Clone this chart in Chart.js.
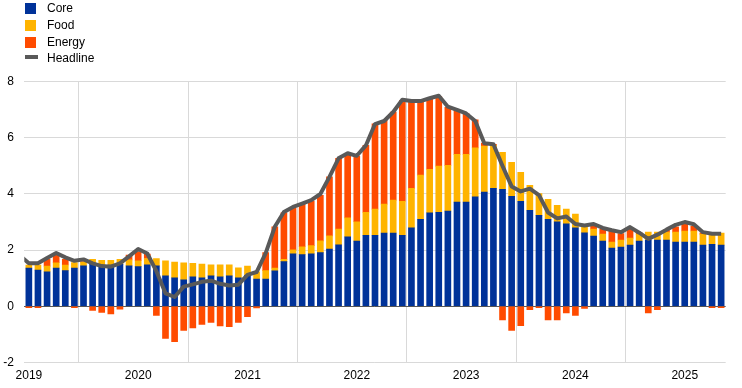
<!DOCTYPE html>
<html>
<head>
<meta charset="utf-8">
<script src="https://cdn.jsdelivr.net/npm/chart.js@4/dist/chart.umd.min.js"></script>
<style>
html,body{margin:0;padding:0;background:#fff;}
#wrap{position:relative;width:742px;height:388px;overflow:hidden;}
#c{position:absolute;left:0;top:0;}
.lg{position:absolute;left:0;top:0;font:12px "Liberation Sans",Arial,sans-serif;color:#000;}
.it{position:absolute;left:25px;height:14px;}
.bx{position:absolute;left:0;width:11px;height:11px;}
.tx{position:absolute;left:22px;line-height:14px;white-space:nowrap;}
</style>
</head>
<body>
<div id="wrap">
<canvas id="c" width="742" height="388"></canvas>
<div class="lg" id="legend"></div>
</div>
<script>
// ---- data ----
const tickYears = ['2019','2020','2021','2022','2023','2024','2025'];
// monthly, Jan 2019 .. May 2025 (percentage-point contributions)
const core = [
1.36,1.29,1.23,1.36,1.27,1.36,1.44,1.49,1.44,1.47,1.49,1.44,
1.41,1.48,1.44,1.08,1.01,0.94,1.05,1.01,1.08,1.05,1.08,1.01,
1.10,0.97,0.97,1.26,1.59,1.87,1.84,1.87,1.91,2.04,2.19,2.47,
2.32,2.53,2.53,2.61,2.61,2.53,2.79,3.10,3.33,3.35,3.39,3.71,
3.71,3.90,4.07,4.20,4.17,3.92,3.74,3.42,3.24,3.10,3.01,2.94,
2.79,2.62,2.50,2.32,2.07,2.11,2.18,2.32,2.36,2.36,2.36,2.29,
2.29,2.29,2.18,2.21,2.18];
const food = [
0.11,0.18,0.20,0.19,0.20,0.20,0.13,0.18,0.20,0.17,0.18,0.21,
0.21,0.22,0.26,0.54,0.56,0.61,0.48,0.49,0.40,0.43,0.40,0.36,
0.33,0.26,0.30,0.10,0.08,0.14,0.28,0.29,0.42,0.47,0.56,0.68,
0.69,0.82,0.93,1.03,1.17,1.21,1.41,1.57,1.55,1.64,1.63,1.70,
1.70,1.74,1.64,1.53,1.31,1.21,1.03,0.89,0.77,0.71,0.59,0.52,
0.49,0.28,0.25,0.25,0.22,0.25,0.25,0.25,0.28,0.28,0.28,0.35,
0.39,0.39,0.39,0.36,0.43];
const energy = [
-0.05,-0.05,0.24,0.27,0.20,-0.05,0.02,-0.15,-0.22,-0.27,-0.10,0.17,
0.32,0.16,-0.33,-1.15,-1.26,-0.86,-0.77,-0.65,-0.58,-0.70,-0.73,-0.58,
-0.37,-0.06,0.64,1.47,1.66,1.50,1.52,1.59,1.62,2.10,2.52,2.24,
2.34,2.38,3.04,2.98,3.14,3.59,3.11,2.64,2.51,2.48,2.07,1.59,
1.45,1.00,0.10,0.04,-0.49,-0.86,-0.69,-0.12,-0.05,-0.49,-0.49,-0.24,
-0.33,-0.08,0.10,0.17,0.39,0.23,0.32,0.05,-0.24,-0.12,0.07,0.19,
0.24,0.17,0.05,-0.05,-0.05];
const headlineDec2018 = 1.81;
const headline = [
1.53,1.53,1.72,1.90,1.74,1.62,1.67,1.53,1.43,1.41,1.53,1.78,
2.04,1.88,1.25,0.46,0.33,0.70,0.78,0.87,0.91,0.80,0.74,0.77,
1.12,1.22,1.89,2.83,3.36,3.54,3.66,3.78,4.00,4.61,5.27,5.45,
5.36,5.73,6.49,6.60,6.92,7.36,7.31,7.31,7.41,7.50,7.11,7.00,
6.87,6.60,5.81,5.77,5.00,4.27,4.09,4.19,3.96,3.34,3.13,3.20,
2.93,2.88,2.93,2.79,2.71,2.64,2.82,2.62,2.40,2.55,2.73,2.90,
3.00,2.92,2.64,2.58,2.58];
const seriesNames = ['Core','Food','Energy','Headline'];
const colors = {Core:'#003299', Food:'#FFB400', Energy:'#FF4B00', Headline:'#595959'};

// ---- legend (HTML text) ----
const lg = document.getElementById('legend');
seriesNames.forEach((n,k)=>{
  const it = document.createElement('div');
  it.className='it';
  it.style.top = (1 + k*16.8) + 'px';
  const b = document.createElement('div');
  b.className='bx';
  if(n==='Headline'){ b.style.height='4px'; b.style.top='4px'; b.style.width='13px'; }
  else { b.style.top='2.3px'; }
  b.style.background = colors[n];
  const t = document.createElement('div');
  t.className='tx'; t.textContent = n;
  it.appendChild(b); it.appendChild(t); lg.appendChild(it);
});

const toXY = arr => arr.map((v,i)=>({x:i, y:v}));
const nMonths = core.length;
const lineData = [{x:-1, y:headlineDec2018}].concat(toXY(headline));

const FONT = {family:'"Liberation Sans", Arial, sans-serif', size:12};

new Chart(document.getElementById('c'), {
  type:'bar',
  data:{
    datasets:[
      {type:'line', label:'Headline', data:lineData, borderColor:colors.Headline, borderWidth:4,
       pointRadius:0, tension:0, fill:false, order:0, stack:'headline', clip:0, borderJoinStyle:'round'},
      {label:'Core', data:toXY(core), backgroundColor:colors.Core, order:1, stack:'s', barThickness:6},
      {label:'Food', data:toXY(food), backgroundColor:colors.Food, order:1, stack:'s', barThickness:6},
      {label:'Energy', data:toXY(energy), backgroundColor:colors.Energy, order:1, stack:'s', barThickness:6}
    ]
  },
  options:{
    responsive:false, animation:false,
    layout:{padding:{left:0, right:16.3, top:81.7, bottom:0}},
    plugins:{legend:{display:false}, tooltip:{enabled:false}},
    scales:{
      x:{type:'linear', min:-0.5, max:nMonths-0.5, stacked:true, offset:false,
         afterBuildTicks: ax => { ax.ticks = tickYears.map((y,k)=>({value:k*12-0.5})); },
         afterFit: ax => { ax.height = 25.6; },
         ticks:{autoSkip:false, maxRotation:0, padding:6.3, labelOffset:4.6, color:'#000', font:FONT,
                callback:(v,i)=>tickYears[i]},
         grid:{color:'#d9d9d9', lineWidth:1, drawTicks:false},
         border:{display:false}},
      y:{type:'linear', min:-2, max:8, stacked:true,
         afterFit: ax => { ax.width = 24.3; },
         ticks:{stepSize:2, padding:10.3, color:'#000', font:FONT},
         grid:{color: c => (c.tick && c.tick.value===0) ? '#555555' : '#d9d9d9', lineWidth:1, drawTicks:false},
         border:{display:false}}
    }
  }
});
</script>
</body>
</html>
